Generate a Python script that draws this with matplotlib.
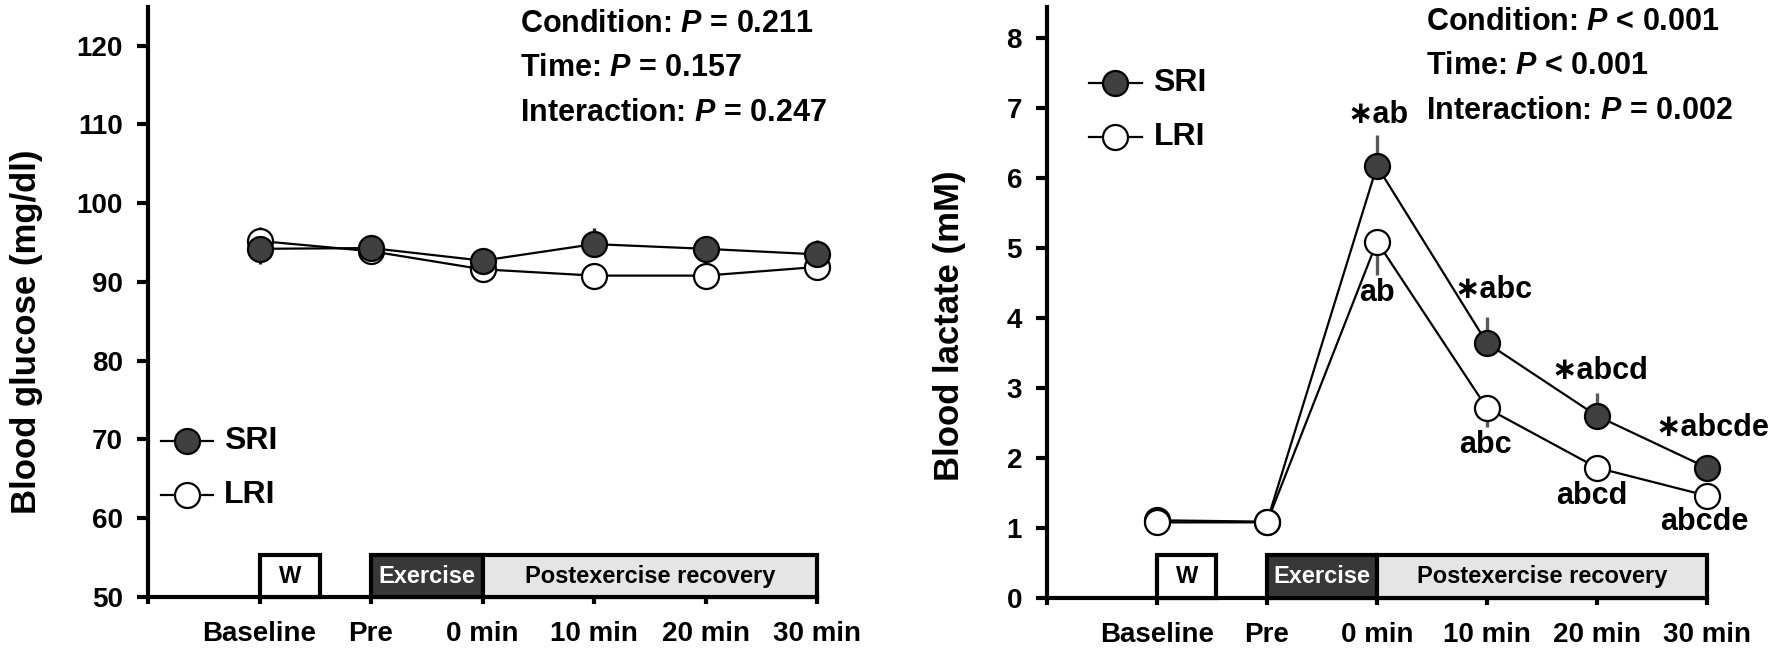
import matplotlib
matplotlib.use('Agg')
import matplotlib.pyplot as plt
from matplotlib.patches import Rectangle

FONT = 'Liberation Sans'
plt.rcParams['font.family'] = [FONT, 'DejaVu Sans']
plt.rcParams['font.weight'] = 'bold'
plt.rcParams['mathtext.fontset'] = 'custom'
plt.rcParams['mathtext.bfit'] = FONT + ':italic:bold'
plt.rcParams['mathtext.it'] = FONT + ':italic:bold'

# data
time_labels = ['Baseline', 'Pre', '0 min', '10 min', '20 min', '30 min']
x = [1, 2, 3, 4, 5, 6]

glucose_sri = [94.2, 94.3, 92.7, 94.8, 94.2, 93.5]
glucose_sri_err = [-1.9, 0.5, 0.5, 2.0, 1.6, 1.8]
glucose_lri = [95.2, 93.9, 91.6, 90.8, 90.8, 91.9]
glucose_lri_err = [1.8, -0.5, -0.5, -0.5, -0.5, -0.5]

lactate_sri = [1.11, 1.09, 6.17, 3.64, 2.60, 1.86]
lactate_sri_err = [0.05, 0.05, 0.44, 0.37, 0.33, 0.05]
lactate_lri = [1.08, 1.08, 5.09, 2.71, 1.86, 1.46]
lactate_lri_err = [-0.05, -0.05, -0.48, -0.27, -0.05, -0.05]

glucose_stats = ['Condition: $\\mathbfit{P}$ = 0.211',
                 'Time: $\\mathbfit{P}$ = 0.157',
                 'Interaction: $\\mathbfit{P}$ = 0.247']
lactate_stats = ['Condition: $\\mathbfit{P}$ < 0.001',
                 'Time: $\\mathbfit{P}$ < 0.001',
                 'Interaction: $\\mathbfit{P}$ = 0.002']

lactate_marks = [(3.01, 6.90, '\u2217ab'), (3.0, 4.35, 'ab'),
                 (4.06, 4.40, '\u2217abc'), (3.99, 2.19, 'abc'),
                 (5.03, 3.24, '\u2217abcd'), (4.95, 1.45, 'abcd'),
                 (6.05, 2.43, '\u2217abcde'), (5.98, 1.09, 'abcde')]

SRI_FILL = '#404040'


def draw_series(ax, y, err, fill, z, err_col):
    for xi, yi, e in zip(x, y, err):
        ax.plot([xi, xi], [yi, yi + e], color=err_col, lw=2.4, zorder=z - 1,
                solid_capstyle='butt', clip_on=False)
    ax.plot(x, y, color='black', lw=1.6, marker='o', ms=18, mfc=fill,
            mec='black', mew=1.6, zorder=z, clip_on=False)


def setup_axes(ax, ylim, yticks, box_h):
    ax.set_xlim(0, 6)
    ax.set_ylim(*ylim)
    for s in ['top', 'right']:
        ax.spines[s].set_visible(False)
    for s in ['left', 'bottom']:
        ax.spines[s].set_linewidth(3)
    ax.set_xticks(range(0, 7))
    ax.set_xticklabels([''] + time_labels)
    ax.set_yticks(yticks)
    ax.tick_params(axis='y', direction='out', length=8, width=3, labelsize=20, pad=10)
    ax.tick_params(axis='x', direction='out', length=5, width=3, labelsize=20, pad=12)

    y0 = ylim[0]
    boxes = [(1, 0.54, 'white', 'W', 'black'),
             (2, 1, '#383838', 'Exercise', 'white'),
             (3, 3, '#e5e5e5', 'Postexercise recovery', 'black')]
    for bx, bw, fc, txt, tc in boxes:
        ax.add_patch(Rectangle((bx, y0), bw, box_h, facecolor=fc, edgecolor='black',
                               lw=3, zorder=3, clip_on=False))
        ax.text(bx + bw / 2, y0 + box_h * 0.5, txt, color=tc, ha='center',
                va='center', fontsize=17, fontweight='bold', zorder=4)


def draw_legend(ax, lx, ly_sri, ly_lri, dx):
    for ly, fill, name in [(ly_sri, SRI_FILL, 'SRI'), (ly_lri, 'white', 'LRI')]:
        ax.plot([lx - dx, lx + dx], [ly, ly], color='black', lw=1.6, zorder=6)
        ax.plot([lx], [ly], marker='o', ms=18, mfc=fill, mec='black', mew=1.6,
                zorder=7, ls='none')
        ax.text(lx + dx * 1.45, ly, name, fontsize=23, fontweight='bold',
                va='center', ha='left')


fig = plt.figure(figsize=(17.72, 6.49), dpi=100)
ax1 = fig.add_axes([148 / 1772, 52 / 649, 669 / 1772, 590 / 649])
ax2 = fig.add_axes([1047 / 1772, 51 / 649, 660 / 1772, 591 / 649])

# glucose panel
setup_axes(ax1, (50, 124.9), range(50, 121, 10), 5.3)
draw_series(ax1, glucose_lri, glucose_lri_err, 'white', 4, '#222222')
draw_series(ax1, glucose_sri, glucose_sri_err, SRI_FILL, 5, '#222222')
ax1.set_ylabel('Blood glucose (mg/dl)', fontsize=25, fontweight='bold')
ax1.yaxis.set_label_coords(-0.157, 0.45)
draw_legend(ax1, 0.35, 69.8, 62.9, 0.23)
for i, s in enumerate(glucose_stats):
    ax1.text(3.34, 122.8 - 5.65 * i, s, fontsize=22, fontweight='bold',
             ha='left', va='center')

# lactate panel
setup_axes(ax2, (0, 8.44), range(0, 9), 0.61)
draw_series(ax2, lactate_lri, lactate_lri_err, 'white', 5, '#5a5a5a')
draw_series(ax2, lactate_sri, lactate_sri_err, SRI_FILL, 4, '#5a5a5a')
ax2.set_ylabel('Blood lactate (mM)', fontsize=25, fontweight='bold')
ax2.yaxis.set_label_coords(-0.123, 0.46)
draw_legend(ax2, 0.62, 7.36, 6.59, 0.24)
for i, s in enumerate(lactate_stats):
    ax2.text(3.45, 8.23 - 0.635 * i, s, fontsize=22, fontweight='bold',
             ha='left', va='center')
for mx, my, txt in lactate_marks:
    ax2.text(mx, my, txt, fontsize=22, fontweight='bold', ha='center', va='center',
             family=[FONT, 'DejaVu Sans'])

fig.savefig('out.png', dpi=100)
